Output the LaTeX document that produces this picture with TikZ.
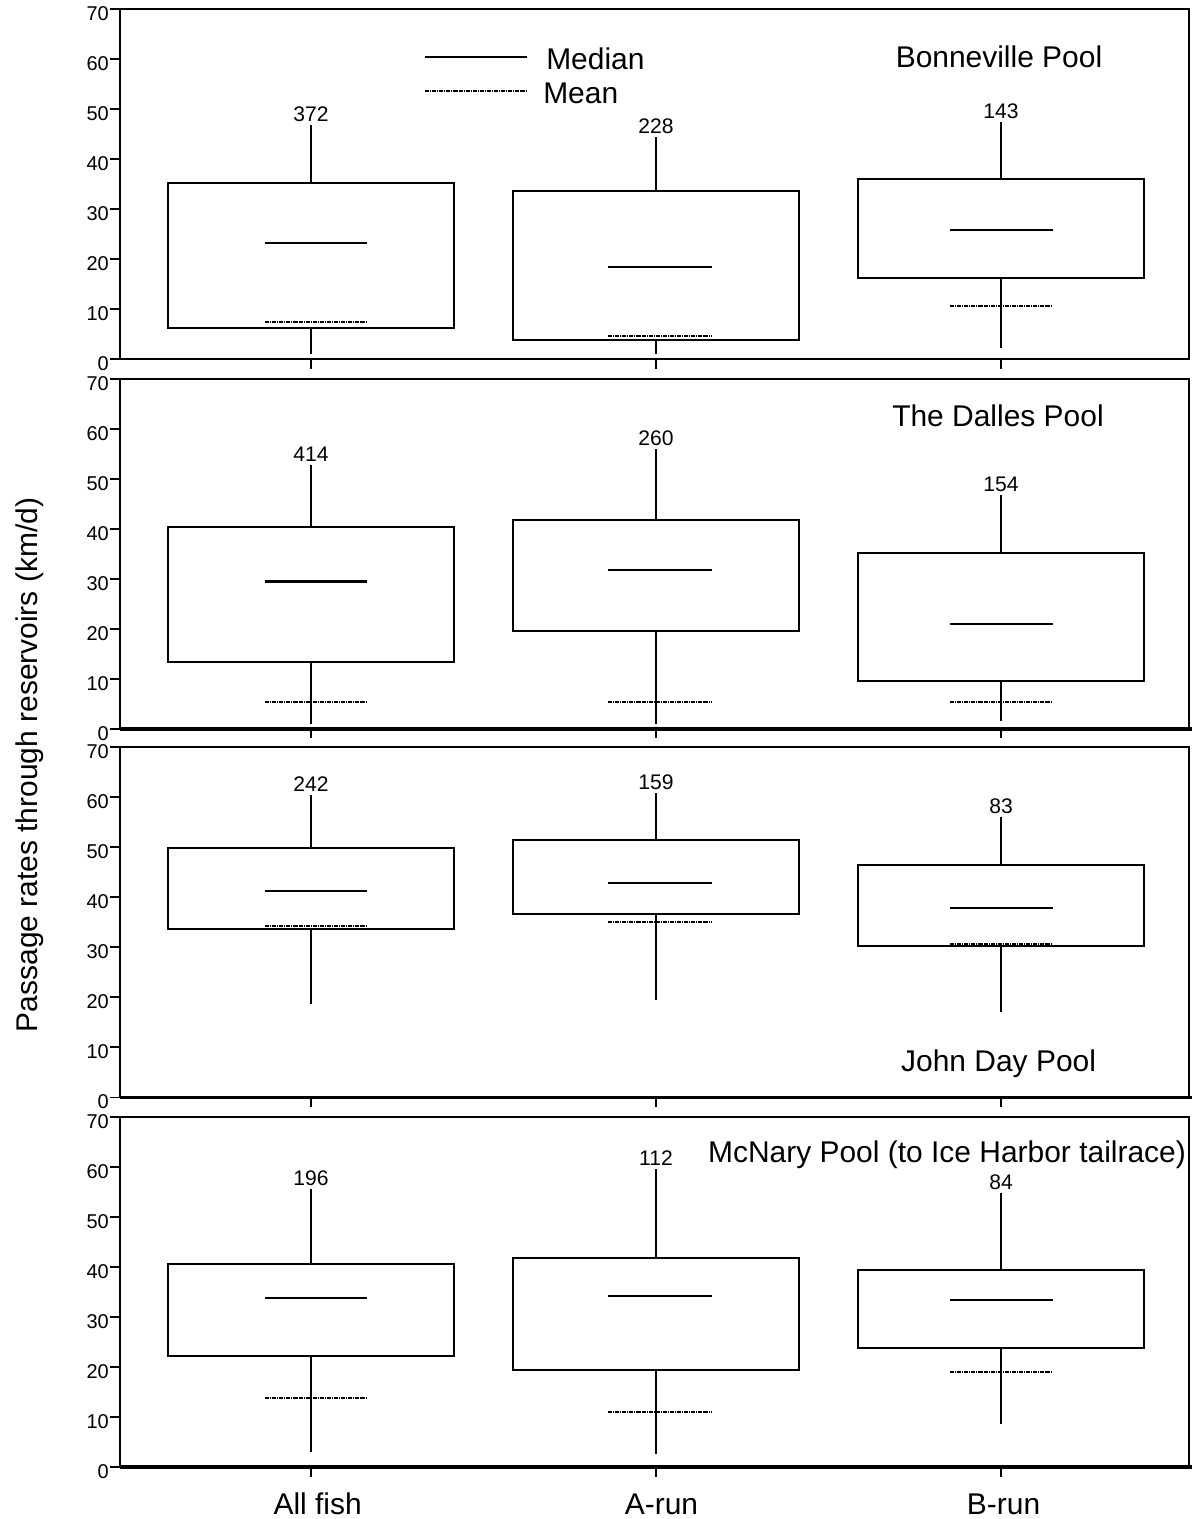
\documentclass[tikz,border=0pt]{standalone}
\usepackage{fontspec}
\setmainfont{Liberation Sans}
\tikzset{
	frame/.style={line width=1.4pt},
	thickaxis/.style={line width=2.6pt},
	whisker/.style={line width=1.1pt},
	medline/.style={line width=1.5pt},
	meanline/.style={line width=1.1pt, dash pattern=on 2.8pt off 0.7pt on 0.7pt off 0.7pt},
	ticklabel/.style={anchor=east, inner sep=0pt, font=\fontsize{14.2}{16}\selectfont},
	nlabel/.style={anchor=south, inner sep=0pt, yshift=2.2pt, font=\fontsize{15}{18}\selectfont},
	bigtext/.style={inner sep=0pt, font=\fontsize{21.3}{25}\selectfont}
}
\newcommand{\poolaxes}[1]{%
	\draw[frame] (120,0) rectangle (1189,70);
	\foreach \v in {0,10,...,70} {
		\draw[frame] (110,\v) -- (120,\v);
		\node[ticklabel] (#1y\v) at (109,\v-0.9) {\v};
	}
	\foreach \c in {311,656,1001}
		\draw[whisker] (\c,0) -- (\c,-1.9);
}
\newcommand{\poolboxes}[2]{%
	\foreach \c/\ml/\mr/\lo/\qa/\md/\qb/\hi/\mu/\n in {#2} {
		\draw[frame] (\c-143,\qa) rectangle (\c+143,\qb);
		\draw[whisker] (\c,\qb) -- (\c,\hi) node[nlabel] (#1n\n) {\n};
		\draw[whisker] (\c,\qa) -- (\c,\lo);
		\draw[medline] (\c-\ml,\md) -- (\c+\mr,\md);
		\draw[meanline] (\c-\ml,\mu) -- (\c+\mr,\mu);
	}
}
\begin{document}
\begin{tikzpicture}[x=0.025cm, y=0.025cm]
	\useasboundingbox (0,0) rectangle (1196,1519);

	\begin{scope}[shift={(0,1159.7)}, y=0.125cm]
		\poolaxes{bon}
		\poolboxes{bon}{311/46/56/1.1/6.3/23.2/35.3/46.8/7.5/372,
			656/48/56/1.0/3.9/18.4/33.6/44.4/4.7/228,
			1001/51/52/2.2/16.3/25.9/36.0/47.4/10.7/143}
		\node[bigtext] (bontitle) at (999,60.5) {Bonneville Pool};
		\path (425,60.4) coordinate (medA) ++ (102,0) coordinate (medB);
		\path (425,53.6) coordinate (meanA) ++ (102,0) coordinate (meanB);
		\draw[medline] (medA) -- (medB);
		\draw[meanline] (meanA) -- (meanB);
		\node[bigtext, anchor=west] (medtext) at (546,60.0) {Median};
		\node[bigtext, anchor=west] (meantext) at (543,53.1) {Mean};
	\end{scope}

	\begin{scope}[shift={(0,790)}, y=0.125cm]
		\poolaxes{dal}
		\poolboxes{dal}{311/46/56/1.0/13.4/29.5/40.3/52.7/5.4/414,
			656/48/56/1.0/19.5/31.8/41.8/55.9/5.4/260,
			1001/51/52/1.5/9.5/21.0/35.1/46.7/5.4/154}
		\draw[thickaxis] (120,0) -- (1192,0);
		\node[bigtext] (daltitle) at (998,62.6) {The Dalles Pool};
	\end{scope}

	\begin{scope}[shift={(0,421.5)}, y=0.125cm]
		\poolaxes{jd}
		\poolboxes{jd}{311/46/56/18.6/33.6/41.2/49.9/60.5/34.3/242,
			656/48/56/19.4/36.7/42.8/51.5/60.8/35.1/159,
			1001/51/52/17.0/30.3/37.9/46.4/56.0/30.7/83}
		\draw[thickaxis] (120,0) -- (1192,0);
		\node[bigtext] (jdtitle) at (998.6,6.8) {John Day Pool};
	\end{scope}

	\begin{scope}[shift={(0,51.7)}, y=0.125cm]
		\poolaxes{mcn}
		\poolboxes{mcn}{311/46/56/3.0/22.3/33.9/40.7/55.6/13.9/196,
			656/48/56/2.6/19.5/34.3/41.9/59.6/11.1/112,
			1001/51/52/8.6/23.9/33.5/39.5/54.8/19.1/84}
		\draw[thickaxis] (120,0) -- (1192,0);
		\node[bigtext] (mcntitle) at (947,62.5) {McNary Pool (to Ice Harbor tailrace)};
	\end{scope}

	\node[bigtext, anchor=base] (allfish) at (317.7,5) {All fish};
	\node[bigtext, anchor=base] (arun) at (661.5,5) {A-run};
	\node[bigtext, anchor=base] (brun) at (1003.6,5) {B-run};
	\node[bigtext, rotate=90, anchor=base] (ylabel) at (37,754) {Passage rates through reservoirs (km/d)};
\end{tikzpicture}
\end{document}
